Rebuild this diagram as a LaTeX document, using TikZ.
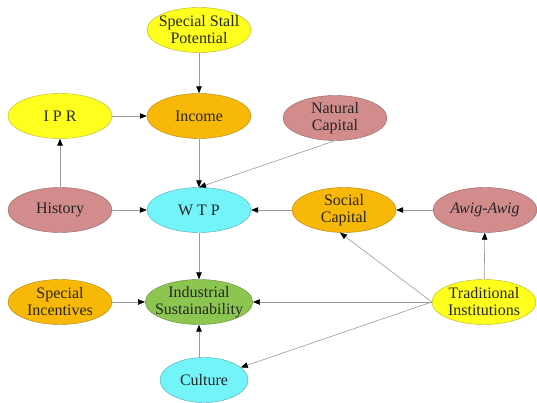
\documentclass[tikz,border=0pt]{standalone}
\usepackage{fontspec}
\setmainfont{Liberation Serif}
\usetikzlibrary{shapes.geometric, arrows.meta}

\definecolor{nodeyellow}{HTML}{FFFF1E}
\definecolor{nodeorange}{HTML}{F8B808}
\definecolor{nodepink}{HTML}{D28C8C}
\definecolor{nodecyan}{HTML}{72F4F8}
\definecolor{nodegreen}{HTML}{8CC650}
\definecolor{edgegray}{HTML}{9A9A9A}

\tikzset{
  factor/.style={ellipse, draw=#1!70!black, fill=#1, line width=0.4pt,
    minimum width=104pt, minimum height=45pt, inner sep=-6pt, align=center,
    font=\fontsize{16}{17}\selectfont, text=black!85},
  link/.style={draw=edgegray, line width=0.6pt,
    -{Triangle[color=black, length=7pt, width=5.5pt]}},
}

\begin{document}
\begin{tikzpicture}[x=1pt, y=-1pt]
  \useasboundingbox (0,0) rectangle (537,403);
  % factors
  \node[factor=nodeyellow] (stall) at (199,30) {Special Stall\\Potential};
  \node[factor=nodeyellow] (ipr) at (60,116) {I P R};
  \node[factor=nodeorange] (income) at (199,116) {Income};
  \node[factor=nodepink] (natcap) at (335,118) {Natural\\Capital};
  \node[factor=nodepink] (history) at (60,210) {History};
  \node[factor=nodecyan] (wtp) at (199,210) {W T P};
  \node[factor=nodeorange] (soccap) at (344,210) {Social\\Capital};
  \node[factor=nodepink] (awig) at (485,210) {\itshape Awig-Awig};
  \node[factor=nodeorange] (incent) at (60,302) {Special\\Incentives};
  \node[factor=nodegreen] (indsus) at (199,302) {Industrial\\Sustainability};
  \node[factor=nodeyellow] (tradinst) at (484,302) {Traditional\\Institutions};
  \node[factor=nodecyan, minimum width=88pt] (culture) at (204,380) {Culture};
  % influences
  \draw[link] (stall) -- (income);
  \draw[link] (ipr) -- (income);
  \draw[link] (history) -- (ipr);
  \draw[link] (income) -- (wtp);
  \draw[link] (natcap.south) -- (wtp.north);
  \draw[link] (history) -- (wtp);
  \draw[link] (soccap) -- (wtp);
  \draw[link] (awig) -- (soccap);
  \draw[link] (wtp) -- (indsus);
  \draw[link] (incent) -- (indsus);
  \draw[link] (indsus |- culture.north) -- (indsus);
  \draw[link] (tradinst) -- (awig);
  \draw[link] (tradinst.west) -- (indsus);
  \draw[link] (tradinst.west) -- (soccap.260);
  \draw[link] (tradinst.west) -- (culture);
\end{tikzpicture}
\end{document}
